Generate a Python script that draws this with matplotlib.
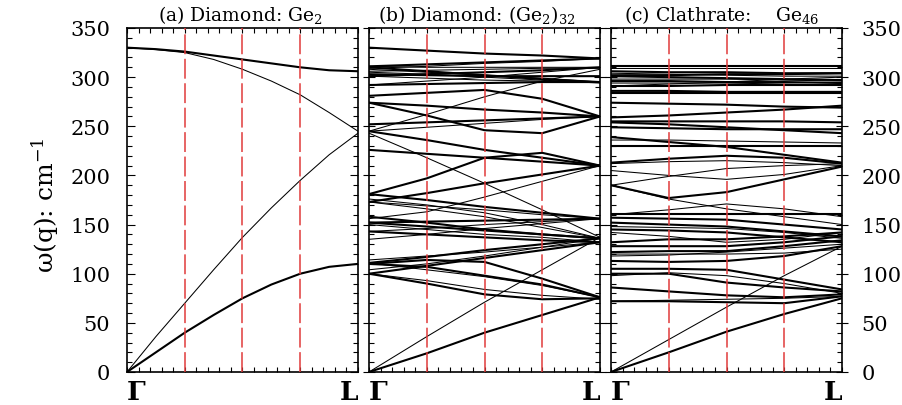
import numpy as np
import matplotlib.pyplot as plt
from matplotlib.ticker import MultipleLocator

plt.rcParams['font.family'] = ['DejaVu Serif']
plt.rcParams['mathtext.fontset'] = 'dejavuserif'

# wave-vector positions along Gamma -> L (fraction of the path)
q_a = [0.0, 0.125, 0.25, 0.375, 0.5, 0.625, 0.75, 0.875, 1.0]
q_bc = [0.0, 0.25, 0.5, 0.75, 1.0]
q_marks = [0.25, 0.5, 0.75]

# (a) Diamond Ge2, frequencies in cm^-1
a_ta = [0, 20, 40, 58, 75, 89, 100, 107, 110]
a_la = [0, 36, 70, 104, 137, 167, 195, 221, 243]
a_lo = [330, 328, 325, 318, 308, 296, 282, 264, 245]
a_to = [330, 328.5, 326, 322, 318, 314, 310, 307, 306]
a_branches = [a_ta, a_la, a_lo, a_to]
a_deg = [2, 1, 1, 2]

# (b) Diamond (Ge2)32 supercell, folded branches
b_acoustic = [
    [0, 19, 40, 58, 76],
    [0, 36, 71, 104, 137],
    [243, 218, 192, 165, 137],
    [245, 262, 280, 296, 308],
]
b_acoustic_deg = [2, 1, 1, 1]

b_low = [
    [110, 114, 112, 95, 76],
    [110, 107, 98, 89, 76],
    [100, 90, 79, 74, 75],
    [100, 93, 84, 78, 74],
    [111, 104, 97, 88, 76],
    [111, 117, 124, 130, 136],
    [100, 108, 116, 124, 132],
    [104, 110, 118, 127, 136],
    [114, 118, 122, 127, 132],
    [152, 148, 144, 140, 136],
    [143, 140, 137, 134, 132],
    [150, 145, 140, 137, 132],
    [143, 146, 150, 153, 156],
    [152, 153, 154, 155, 156],
    [158, 152, 145, 140, 136],
    [135, 140, 146, 151, 156],
]
b_low_deg = [2, 2, 2, 1, 1, 2, 2, 1, 1, 2, 2, 1, 1, 2, 2, 1]

b_mid = [
    [181, 197, 218, 223, 210],
    [173, 182, 192, 201, 210],
    [156, 163, 178, 194, 210],
    [181, 175, 168, 162, 156],
    [173, 169, 165, 160, 156],
    [173, 166, 158, 147, 136],
    [176, 170, 162, 150, 136],
    [245, 236, 226, 218, 210],
    [226, 222, 218, 214, 210],
]
b_mid_deg = [2, 2, 1, 2, 1, 1, 1, 2, 2]

b_high = [
    [274, 261, 246, 243, 260],
    [274, 271, 267, 264, 260],
    [252, 254, 256, 258, 260],
    [245, 249, 253, 257, 260],
    [281, 284, 287, 278, 260],
    [292, 293, 294, 295, 295],
    [292, 296, 300, 305, 310],
    [330, 327, 324, 322, 319],
    [311, 313, 315, 317, 319],
    [309, 311, 314, 316, 319],
    [310, 306, 302, 298, 295],
    [306, 307, 308, 309, 309],
    [303, 302, 301, 301, 301],
    [301, 303, 305, 307, 310],
    [308, 305, 302, 299, 295],
    [305, 303, 300, 297, 294],
    [301, 299, 297, 296, 295],
    [311, 310, 310, 310, 310],
]
b_high_deg = [2, 2, 2, 1, 2, 2, 1, 2, 2, 1, 2, 1, 2, 2, 1, 1, 1, 1]

# (c) Clathrate Ge46
c_acoustic = [
    [0, 20, 41, 59, 75],
    [0, 33, 66, 98, 128],
]
c_acoustic_deg = [2, 1]

c_low = [
    [72, 72, 71, 70, 77],
    [72, 73, 74, 75, 77],
    [86, 82, 78, 76, 79],
    [100, 100, 91, 86, 82],
    [98, 101, 98, 90, 80],
    [105, 105, 104, 94, 84],
    [113, 112, 113, 118, 128],
    [120, 120, 120, 121, 125],
    [118, 119, 122, 126, 130],
]
c_low_deg = [2, 1, 2, 2, 1, 2, 2, 1, 1]

c_mid = [
    [122, 123, 123, 128, 134],
    [128, 128, 128, 132, 138],
    [132, 135, 135, 138, 142],
    [142, 138, 132, 135, 142],
    [145, 144, 142, 137, 132],
    [148, 147, 146, 142, 136],
    [152, 150, 148, 143, 138],
    [157, 156, 155, 150, 145],
    [161, 161, 161, 161, 161],
    [160, 165, 171, 166, 158],
    [190, 176, 166, 158, 150],
    [190, 177, 183, 196, 209],
    [190, 199, 207, 210, 212],
    [205, 200, 196, 201, 210],
    [213, 217, 220, 218, 212],
    [212, 214, 215, 213, 210],
    [239, 234, 229, 221, 213],
    [230, 230, 230, 230, 230],
    [236, 236, 235, 234, 233],
]
c_mid_deg = [2, 2, 2, 1, 2, 1, 2, 2, 2, 1, 1, 2, 1, 1, 2, 1, 2, 2, 1]

c_high = [
    [249, 248, 247, 247, 247],
    [254, 252, 249, 246, 243],
    [255, 255, 255, 255, 254],
    [259, 261, 264, 267, 271],
    [274, 273, 272, 270, 269],
    [284, 284, 284, 284, 284],
    [286, 286, 285, 285, 285],
    [291, 293, 295, 298, 300],
    [291, 291, 292, 292, 292],
    [294, 294, 294, 293, 292],
    [296, 296, 295, 295, 294],
    [298, 298, 298, 297, 296],
    [301, 300, 299, 298, 297],
    [302, 302, 303, 303, 304],
    [304, 303, 302, 301, 301],
    [306, 305, 305, 304, 304],
    [309, 309, 309, 309, 309],
    [311, 311, 311, 311, 311],
]
c_high_deg = [2, 2, 2, 2, 2, 2, 2, 1, 2, 1, 2, 1, 2, 2, 1, 2, 1, 2]

titles = ['(a) Diamond: Ge$_2$', '(b) Diamond: (Ge$_2$)$_{32}$',
          '(c) Clathrate:    Ge$_{46}$']
title_x = [240, 477, 722]


def draw_branches(ax, q, branches, degs):
    for w, d in zip(branches, degs):
        ax.plot(q, w, color='black', lw=0.75 if d == 1 else 1.5,
                solid_joinstyle='round', zorder=2)


W, H = 903, 406
fig = plt.figure(figsize=(W / 100, H / 100), dpi=100)
lefts = [127, 369, 611]
axes = []
for x0 in lefts:
    ax = fig.add_axes([x0 / W, 1 - 373 / H, 231 / W, 344 / H])
    axes.append(ax)

draw_branches(axes[0], q_a, a_branches, a_deg)
for grp, dg in [(b_acoustic, b_acoustic_deg), (b_low, b_low_deg),
                (b_mid, b_mid_deg), (b_high, b_high_deg)]:
    draw_branches(axes[1], q_bc, grp, dg)
for grp, dg in [(c_acoustic, c_acoustic_deg), (c_low, c_low_deg),
                (c_mid, c_mid_deg), (c_high, c_high_deg)]:
    draw_branches(axes[2], q_bc, grp, dg)

for i, ax in enumerate(axes):
    for xm in q_marks:
        ax.axvline(xm, color='#e03a3a', lw=1.1, dashes=(13, 3), zorder=3)
    ax.set_xlim(0, 1)
    ax.set_ylim(0, 350)
    ax.set_xticks([])
    ax.set_xticks(np.arange(0, 1.001, 0.05), minor=True)
    ax.yaxis.set_major_locator(MultipleLocator(50))
    ax.yaxis.set_minor_locator(MultipleLocator(10))
    ax.tick_params(axis='x', which='minor', direction='in', top=True,
                   bottom=True, length=3.5, width=0.8, labelbottom=False)
    ax.tick_params(axis='y', which='both', direction='in', left=True,
                   right=True, width=0.8, labelleft=False, labelright=False)
    ax.tick_params(axis='y', which='major', length=6)
    ax.tick_params(axis='y', which='minor', length=3.5)
    if i > 0:
        ax.tick_params(axis='y', which='major', direction='inout', length=8)
    for s in ax.spines.values():
        s.set_linewidth(1.2)
    # Gamma / L labels sit just under the axis, flush with its edges
    ax.text(0, -(405 - 373) / 344, 'Γ', transform=ax.transAxes, ha='left',
            va='bottom', fontsize=19, fontweight='bold')
    ax.text(1, -(405 - 373) / 344, 'L', transform=ax.transAxes, ha='right',
            va='bottom', fontsize=19, fontweight='bold')
    fig.text(title_x[i] / W, 1 - 15 / H, titles[i], ha='center',
             va='center', fontsize=13.5)

axes[0].tick_params(axis='y', which='major', labelleft=True, labelsize=15,
                    pad=12)
axes[2].tick_params(axis='y', which='major', labelright=True, labelsize=15,
                    pad=10)

fig.text(45 / W, 1 - 205 / H, 'ω(q): cm$^{-1}$', rotation=90, ha='center',
         va='center', fontsize=18)

fig.savefig('out.png', dpi=100)
